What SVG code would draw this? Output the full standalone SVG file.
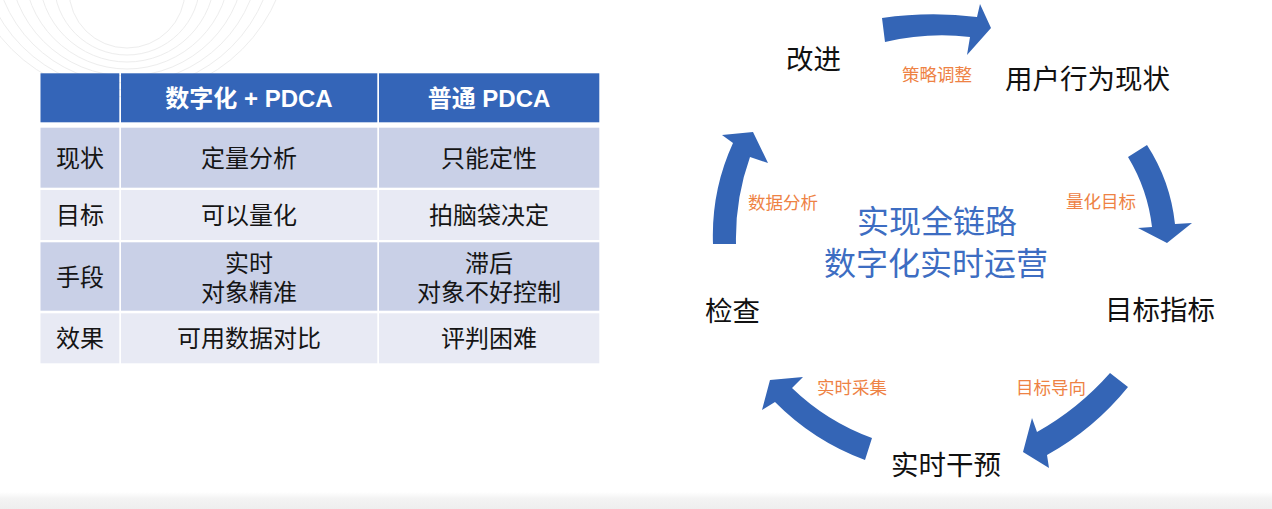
<svg xmlns="http://www.w3.org/2000/svg" width="1272" height="509" viewBox="0 0 1272 509">
<style>
.t{font-family:"Liberation Sans","Noto Sans CJK SC",sans-serif;text-anchor:middle;dominant-baseline:central}
.cell{font-size:24px;fill:#151515}
.hd{font-size:24px;fill:#ffffff;font-weight:bold}
.hbg{fill:#3465B8}
.dk{fill:#C9D0E7}
.lt{fill:#E8EAF4}
.stage{font-size:27.5px;fill:#111111}
.lab{font-size:17.5px;fill:#EE8244}
.ctr{font-size:32px;fill:#3D6DC2}
.arr{fill:#3465B6}
.ring{fill:none;stroke:#ededed;stroke-width:1}
</style>
<defs>
<linearGradient id="band" x1="0" y1="0" x2="0" y2="1">
<stop offset="0" stop-color="#ffffff"/>
<stop offset="0.4" stop-color="#f3f3f3"/>
<stop offset="1" stop-color="#eeeeee"/>
</linearGradient>
</defs>
<rect width="1272" height="509" fill="#ffffff"/>
<g id="decor">
<circle class="ring" cx="127" cy="-10" r="58"/>
<circle class="ring" cx="127" cy="-18" r="73"/>
<circle class="ring" cx="127" cy="-26" r="88"/>
<circle class="ring" cx="127" cy="-34" r="103"/>
<circle class="ring" cx="127" cy="-42" r="118"/>
<circle class="ring" cx="127" cy="-50" r="133"/>
<circle class="ring" cx="127" cy="-58" r="148"/>
<circle class="ring" cx="127" cy="-66" r="163"/>
<rect x="0" y="492" width="1272" height="17" fill="url(#band)"/>
</g>
<g id="table">
<rect class="hbg" x="40.5" y="73.3" width="78.8" height="49"/>
<rect class="hbg" x="121" y="73.3" width="256.3" height="49"/>
<rect class="hbg" x="379" y="73.3" width="220.3" height="49"/>
<rect class="dk" x="40.5" y="127.7" width="78.8" height="60"/>
<rect class="dk" x="121" y="127.7" width="256.3" height="60"/>
<rect class="dk" x="379" y="127.7" width="220.3" height="60"/>
<rect class="lt" x="40.5" y="190" width="78.8" height="50"/>
<rect class="lt" x="121" y="190" width="256.3" height="50"/>
<rect class="lt" x="379" y="190" width="220.3" height="50"/>
<rect class="dk" x="40.5" y="242.3" width="78.8" height="68.4"/>
<rect class="dk" x="121" y="242.3" width="256.3" height="68.4"/>
<rect class="dk" x="379" y="242.3" width="220.3" height="68.4"/>
<rect class="lt" x="40.5" y="313.3" width="78.8" height="50"/>
<rect class="lt" x="121" y="313.3" width="256.3" height="50"/>
<rect class="lt" x="379" y="313.3" width="220.3" height="50"/>
<text class="t hd" x="249" y="98">数字化 + PDCA</text>
<text class="t hd" x="489" y="98">普通 PDCA</text>
<text class="t cell" x="80" y="158">现状</text>
<text class="t cell" x="249" y="158">定量分析</text>
<text class="t cell" x="489" y="158">只能定性</text>
<text class="t cell" x="80" y="215">目标</text>
<text class="t cell" x="249" y="215">可以量化</text>
<text class="t cell" x="489" y="215">拍脑袋决定</text>
<text class="t cell" x="80" y="277">手段</text>
<text class="t cell" x="249" y="263"><tspan x="249" y="263">实时</tspan><tspan x="249" y="292">对象精准</tspan></text>
<text class="t cell" x="489" y="263"><tspan x="489" y="263">滞后</tspan><tspan x="489" y="292">对象不好控制</tspan></text>
<text class="t cell" x="80" y="338">效果</text>
<text class="t cell" x="249" y="338">可用数据对比</text>
<text class="t cell" x="489" y="338">评判困难</text>
</g>
<g id="connectors">
<path class="arr" d="M882,18 Q930,11 977,17 L980,4 L991,28 L967,55 L970,37 Q928,32 885,42 Z"/>
<path class="arr" d="M1128,157 Q1147.6,189.4 1152,227 L1138,228 L1167,243 L1192,223 L1175,224 Q1170.4,181 1147,145 Z"/>
<path class="arr" d="M1110,373 Q1078.5,408.7 1037,432 L1032,418 L1023,452 L1049,468 L1047,455 Q1094,429 1128,387 Z"/>
<path class="arr" d="M872,438 Q826.7,421.5 792,388 L803,377 L770,380 L762,410 L775,402 Q813.5,441 865,460 Z"/>
<path class="arr" d="M713,244 Q711,191 733,143 L722,135 L753,132 L768,163 L750,157 Q735,199 736,244 Z"/>
<text class="t lab" x="937" y="75">策略调整</text>
<text class="t lab" x="1101" y="201.5">量化目标</text>
<text class="t lab" x="1051" y="387.5">目标导向</text>
<text class="t lab" x="852" y="387.5">实时采集</text>
<text class="t lab" x="783" y="202.5">数据分析</text>
</g>
<g id="node-improve"><text class="t stage" x="813.5" y="59.5">改进</text></g>
<g id="node-status"><text class="t stage" x="1087.5" y="79">用户行为现状</text></g>
<g id="node-target"><text class="t stage" x="1160" y="310.5">目标指标</text></g>
<g id="node-intervene"><text class="t stage" x="946" y="465">实时干预</text></g>
<g id="node-check"><text class="t stage" x="732.5" y="311.5">检查</text></g>
<g id="node-center">
<text class="t ctr" x="937" y="222">实现全链路</text>
<text class="t ctr" x="936" y="264">数字化实时运营</text>
</g>
</svg>
